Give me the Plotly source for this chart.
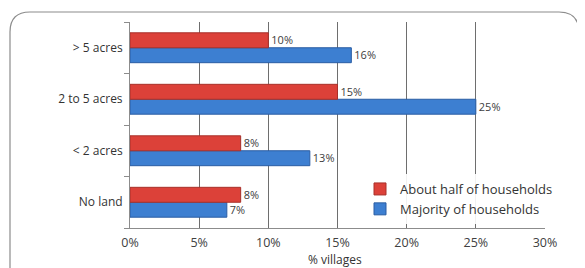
import plotly.graph_objects as go

categories = ["No land", "< 2 acres", "2 to 5 acres", "> 5 acres"]
about_half = [8, 8, 15, 10]
majority = [7, 13, 25, 16]
x_ticks = [0, 5, 10, 15, 20, 25, 30]
x_tick_labels = ["0%", "5%", "10%", "15%", "20%", "25%", "30%"]

# page body has an 8px margin: design in window pixels, shift by OFF
OFF = 8
W, H = 585 - OFF, 268 - OFF
plot_l, plot_r, plot_t, plot_b = 130, 545, 22, 228   # window pixels
ml, mr = plot_l - OFF, W - (plot_r - OFF)
mt, mb = plot_t - OFF, H - (plot_b - OFF)
pw, ph = W - ml - mr, H - mt - mb

def px2x(p):
    return (p - OFF - ml) / pw

def px2y(p):
    return (H - mb - (p - OFF)) / ph

fig = go.Figure()
fig.add_trace(go.Bar(
    y=categories, x=majority, orientation="h", name="Majority of households",
    marker=dict(color="#3d7fd1", line=dict(color="#2a5da3", width=1)),
    text=[f"{v}%" for v in majority], textposition="outside",
    textfont=dict(size=12.5, color="#404040"), cliponaxis=False, legendrank=2,
))
fig.add_trace(go.Bar(
    y=categories, x=about_half, orientation="h", name="About half of households",
    marker=dict(color="#dc4139", line=dict(color="#a8302a", width=1)),
    text=[f"{v}%" for v in about_half], textposition="outside",
    textfont=dict(size=12.5, color="#404040"), cliponaxis=False, legendrank=1,
))

# rounded border (top corners visible)
r = 20
x0, x1, y0, y1 = 10, 579, 12, 290
path = (f"M {px2x(x0)},{px2y(y1)} L {px2x(x0)},{px2y(y0 + r)} "
        f"Q {px2x(x0)},{px2y(y0)} {px2x(x0 + r)},{px2y(y0)} "
        f"L {px2x(x1 - r)},{px2y(y0)} "
        f"Q {px2x(x1)},{px2y(y0)} {px2x(x1)},{px2y(y0 + r)} "
        f"L {px2x(x1)},{px2y(y1)}")
fig.add_shape(type="path", xref="paper", yref="paper", path=path,
              line=dict(color="#8c8c8c", width=1.2), layer="below")

# x-axis title placed as annotation so it stays inside the window
fig.add_annotation(text="% villages", xref="paper", yref="paper",
                   x=px2x(335), y=px2y(259), xanchor="center", yanchor="middle",
                   showarrow=False, borderpad=0, font=dict(size=12, color="#333333"))

fig.update_layout(
    width=W, height=H,
    margin=dict(l=ml, r=mr, t=mt, b=mb, autoexpand=False),
    paper_bgcolor="white", plot_bgcolor="white",
    barmode="group", bargap=0.42, bargroupgap=0,
    font=dict(family="Open Sans, DejaVu Sans, sans-serif", size=12, color="#404040"),
    showlegend=True,
    legend=dict(x=px2x(360), y=px2y(174), xanchor="left", yanchor="top",
                bgcolor="rgba(255,255,255,0.9)", font=dict(size=13, color="#333333"),
                tracegroupgap=0, itemwidth=30),
    xaxis=dict(range=[0, 30], tickvals=x_ticks, ticktext=x_tick_labels,
               showgrid=True, gridcolor="#6e6e6e", gridwidth=1,
               zeroline=False, showline=True, linecolor="#8c8c8c",
               ticks="", ticklabelstandoff=3, automargin=False,
               tickfont=dict(size=12.5, color="#404040"),
               fixedrange=True),
    yaxis=dict(categoryorder="array", categoryarray=categories,
               showgrid=False, showline=True, linecolor="#8c8c8c",
               ticks="outside", ticklen=5, tickcolor="#8c8c8c", tickson="boundaries",
               ticklabelstandoff=4, tickfont=dict(size=12, color="#333333"),
               automargin=False, fixedrange=True),
)

fig.write_html("out.html")
